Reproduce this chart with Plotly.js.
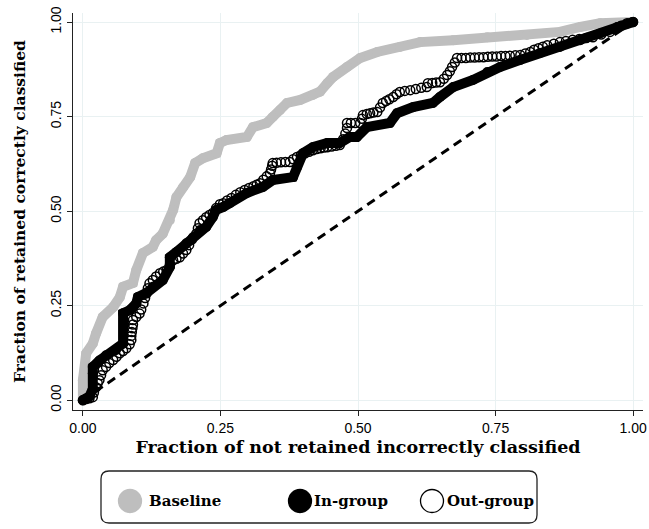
<!DOCTYPE html>
<html>
<head>
<meta charset="utf-8">
<script src="https://cdn.plot.ly/plotly-3.0.1.min.js"></script>
<style>html,body{margin:0;padding:0;background:#fff;}#chart{width:649px;height:529px;}</style>
</head>
<body>
<div id="chart"></div>
<script>
// ---- data ----
var seriesNames = ["Baseline", "In-group", "Out-group"];

var baselineX = [0,0,0.006,0.018,0.024,0.036,0.055,0.067,0.073,0.091,0.097,0.109,0.127,0.133,0.145,0.158,0.164,0.17,0.182,0.195,0.204,0.218,0.243,0.249,0.261,0.298,0.309,0.334,0.345,0.358,0.371,0.395,0.418,0.431,0.444,0.455,0.48,0.504,0.535,0.576,0.613,0.673,0.735,0.807,0.867,0.904,0.94,1];
var baselineY = [0,0.053,0.124,0.15,0.177,0.22,0.246,0.272,0.30,0.31,0.344,0.389,0.405,0.423,0.44,0.476,0.503,0.537,0.563,0.59,0.627,0.64,0.653,0.68,0.688,0.696,0.722,0.733,0.749,0.767,0.786,0.794,0.807,0.816,0.838,0.855,0.881,0.905,0.921,0.934,0.947,0.952,0.96,0.966,0.974,0.987,0.997,1];

var inGroupX = [0,0.012,0.018,0.018,0.018,0.03,0.042,0.06,0.073,0.073,0.085,0.097,0.1,0.115,0.127,0.145,0.158,0.158,0.17,0.188,0.2,0.213,0.224,0.236,0.242,0.255,0.267,0.298,0.327,0.345,0.382,0.389,0.4,0.418,0.444,0.467,0.485,0.498,0.516,0.558,0.571,0.6,0.636,0.649,0.673,0.709,0.735,0.758,0.795,0.831,0.867,0.904,0.94,0.971,1];
var inGroupY = [0,0.01,0.03,0.071,0.088,0.105,0.119,0.132,0.15,0.23,0.238,0.256,0.273,0.283,0.3,0.317,0.352,0.378,0.392,0.415,0.431,0.45,0.458,0.484,0.503,0.511,0.521,0.548,0.564,0.582,0.59,0.616,0.653,0.669,0.68,0.68,0.696,0.696,0.722,0.733,0.759,0.775,0.786,0.802,0.828,0.847,0.868,0.881,0.9,0.918,0.934,0.952,0.97,0.987,1];

var outGroupX = [0,0.006,0.012,0.018,0.02,0.024,0.027,0.03,0.033,0.036,0.042,0.048,0.055,0.061,0.067,0.073,0.079,0.085,0.088,0.088,0.089,0.09,0.091,0.091,0.097,0.103,0.106,0.11,0.113,0.116,0.118,0.121,0.127,0.133,0.14,0.146,0.152,0.158,0.164,0.17,0.176,0.182,0.188,0.193,0.198,0.206,0.209,0.212,0.218,0.224,0.23,0.236,0.242,0.249,0.255,0.262,0.27,0.278,0.286,0.294,0.302,0.31,0.316,0.322,0.328,0.334,0.34,0.342,0.344,0.345,0.352,0.36,0.368,0.376,0.382,0.389,0.396,0.404,0.411,0.418,0.425,0.432,0.438,0.444,0.452,0.46,0.467,0.473,0.477,0.48,0.48,0.487,0.495,0.504,0.507,0.509,0.516,0.522,0.528,0.535,0.54,0.545,0.551,0.557,0.564,0.57,0.576,0.585,0.595,0.605,0.615,0.625,0.627,0.635,0.642,0.649,0.656,0.662,0.667,0.671,0.676,0.68,0.688,0.696,0.704,0.712,0.72,0.728,0.736,0.744,0.752,0.76,0.768,0.776,0.786,0.795,0.804,0.813,0.82,0.828,0.836,0.844,0.856,0.867,0.878,0.89,0.902,0.915,0.927,0.942,0.958,0.968,0.978,0.989,1];
var outGroupY = [0,0.003,0.005,0.008,0.02,0.034,0.045,0.053,0.066,0.079,0.088,0.098,0.106,0.115,0.124,0.13,0.137,0.148,0.159,0.17,0.18,0.19,0.2,0.212,0.22,0.229,0.24,0.256,0.27,0.283,0.296,0.309,0.318,0.327,0.336,0.34,0.344,0.357,0.37,0.374,0.378,0.388,0.397,0.41,0.425,0.44,0.455,0.468,0.476,0.484,0.49,0.495,0.508,0.518,0.521,0.528,0.535,0.543,0.55,0.556,0.561,0.566,0.57,0.574,0.583,0.592,0.6,0.61,0.62,0.627,0.628,0.629,0.63,0.63,0.637,0.643,0.648,0.653,0.657,0.661,0.664,0.666,0.668,0.669,0.671,0.673,0.675,0.69,0.705,0.72,0.733,0.733,0.733,0.733,0.744,0.754,0.757,0.759,0.761,0.762,0.774,0.786,0.791,0.796,0.802,0.809,0.815,0.818,0.82,0.823,0.826,0.828,0.838,0.839,0.84,0.841,0.85,0.86,0.87,0.881,0.893,0.905,0.905,0.905,0.906,0.906,0.907,0.907,0.908,0.909,0.909,0.91,0.91,0.911,0.912,0.913,0.917,0.921,0.927,0.931,0.935,0.939,0.943,0.947,0.95,0.953,0.955,0.958,0.96,0.967,0.974,0.982,0.99,0.997,1];

var refX = [0, 1];
var refY = [0, 1];

var tickVals = [0, 0.25, 0.5, 0.75, 1];
var tickText = ["0.00", "0.25", "0.50", "0.75", "1.00"];

var xTitle = "Fraction of not retained incorrectly classified";
var yTitle = "Fraction of retained correctly classified";

// ---- styling ----
var GRAY = "#bebebe";
var serif = "DejaVu Serif, serif";
var sans = "Liberation Sans, Arial, sans-serif";

var traces = [
  {x: baselineX, y: baselineY, name: seriesNames[0], type: "scatter", mode: "lines+markers",
   line: {color: GRAY, width: 10}, marker: {color: GRAY, size: 10}},
  {x: inGroupX, y: inGroupY, name: seriesNames[1], type: "scatter", mode: "lines+markers",
   line: {color: "#000", width: 10}, marker: {color: "#000", size: 10}},
  {x: outGroupX, y: outGroupY, name: seriesNames[2], type: "scatter", mode: "markers",
   marker: {symbol: "circle-open", color: "#000", size: 9, line: {width: 1.5, color: "#000"}}},
  {x: refX, y: refY, name: "ref", type: "scatter", mode: "lines",
   line: {color: "#000", width: 3, dash: "9px,6px"}}
];

// plot area in pixels
var W = 649, H = 529, L = 73, R = 6, T = 13, B = 119;
var pw = W - L - R, ph = H - T - B;
function px(x) { return (x - L) / pw; }
function py(y) { return (H - B - y) / ph; }

// legend box (rounded)
var bx0 = 101, bx1 = 537, by0 = 471, by1 = 523, rr = 8;
function P(x, y) { return px(x).toFixed(5) + "," + py(y).toFixed(5); }
var boxPath = "M" + P(bx0 + rr, by0) + " L" + P(bx1 - rr, by0) + " Q" + P(bx1, by0) + " " + P(bx1, by0 + rr) +
  " L" + P(bx1, by1 - rr) + " Q" + P(bx1, by1) + " " + P(bx1 - rr, by1) +
  " L" + P(bx0 + rr, by1) + " Q" + P(bx0, by1) + " " + P(bx0, by1 - rr) +
  " L" + P(bx0, by0 + rr) + " Q" + P(bx0, by0) + " " + P(bx0 + rr, by0) + " Z";

var shapes = [
  {type: "path", xref: "paper", yref: "paper", path: boxPath, line: {color: "#222", width: 1.3}, fillcolor: "rgba(0,0,0,0)"}
];
var legendItems = [
  {cx: 130, fill: GRAY, line: GRAY, tx: 147},
  {cx: 300, fill: "#000", line: "#000", tx: 312},
  {cx: 432, fill: "#fff", line: "#000", tx: 445}
];
var annotations = [];
var cy = 501, cr = 11.5;
legendItems.forEach(function (it, i) {
  shapes.push({type: "circle", xref: "paper", yref: "paper",
    x0: px(it.cx - cr), x1: px(it.cx + cr), y0: py(cy + cr), y1: py(cy - cr),
    fillcolor: it.fill, line: {color: it.line, width: 1.3}});
  annotations.push({xref: "paper", yref: "paper", x: px(it.tx), y: py(cy), xanchor: "left", yanchor: "middle",
    showarrow: false, text: "<b>" + seriesNames[i] + "</b>", font: {family: serif, size: 15, color: "#000"}});
});

var layout = {
  width: W, height: H,
  margin: {l: L, r: R, t: T, b: B, pad: 0},
  paper_bgcolor: "#fff", plot_bgcolor: "#fff",
  showlegend: false,
  xaxis: {
    range: [-0.018, 1.018], tickmode: "array", tickvals: tickVals, ticktext: tickText,
    showline: true, linecolor: "#222", linewidth: 1.3, ticks: "outside", ticklen: 5, tickcolor: "#222", tickwidth: 1,
    showgrid: true, gridcolor: "#e9f1f2", gridwidth: 1, zeroline: false,
    tickfont: {family: sans, size: 14, color: "#000"},
    title: {text: "<b>" + xTitle + "</b>", font: {family: serif, size: 17.5, color: "#000"}, standoff: 5}
  },
  yaxis: {
    range: [-0.026, 1.024], tickmode: "array", tickvals: tickVals, ticktext: tickText, tickangle: -90,
    showline: true, linecolor: "#222", linewidth: 1.3, ticks: "outside", ticklen: 5, tickcolor: "#222", tickwidth: 1,
    showgrid: true, gridcolor: "#e9f1f2", gridwidth: 1, zeroline: false,
    tickfont: {family: sans, size: 14, color: "#000"},
    title: {text: "<b>" + yTitle + "</b>", font: {family: serif, size: 15.5, color: "#000"}, standoff: 18}
  },
  shapes: shapes,
  annotations: annotations
};

Plotly.newPlot("chart", traces, layout, {staticPlot: true, displayModeBar: false});
</script>
</body>
</html>
